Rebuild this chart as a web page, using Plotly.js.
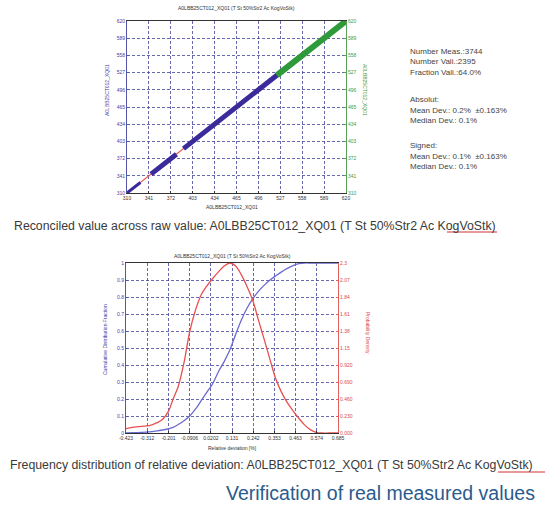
<!DOCTYPE html>
<html>
<head>
<meta charset="utf-8">
<script src="https://cdn.plot.ly/plotly-3.0.1.min.js"></script>
<style>
html,body{margin:0;padding:0;background:#fff;}
#chart{width:555px;height:509px;}
</style>
</head>
<body>
<div id="chart"></div>
<script>
// ---------- data ----------
// Top chart: reconciled vs raw value (A0LBB25CT012_XQ01)
const scatterTicks = [310, 341, 372, 403, 434, 465, 496, 527, 558, 589, 620];
const blueThinRaw = [310, 318, 329];
const blueThinRec = [310, 318, 329];
const blueRaw = [344, 360, 380, null, 390, 420, 450, 480, 510, 540, 560];
const blueRec = [344, 360, 380, null, 390, 420, 450, 480, 510, 540, 560];
const greenRaw = [522, 540, 560, 580, 600, 620];
const greenRec = [522, 540, 560, 580, 600, 620];
const redRaw = [310, 400];
const redRec = [310, 400];

// Bottom chart: frequency distribution of relative deviation
const devTicks = [-0.423, -0.312, -0.201, -0.0906, 0.0202, 0.131, 0.242, 0.353, 0.463, 0.574, 0.685];
const devTickText = ["-0.423", "-0.312", "-0.201", "-0.0906", "0.0202", "0.131", "0.242", "0.353", "0.463", "0.574", "0.685"];
const cdfTicks = [0, 0.1, 0.2, 0.3, 0.4, 0.5, 0.6, 0.7, 0.8, 0.9, 1];
const cdfTickText = ["0", "0.1", "0.2", "0.3", "0.4", "0.5", "0.6", "0.7", "0.8", "0.9", "1"];
const pdfTicks = [0, 0.23, 0.46, 0.69, 0.92, 1.15, 1.38, 1.61, 1.84, 2.07, 2.3];
const pdfTickText = ["0.000", "0.230", "0.460", "0.690", "0.920", "1.15", "1.38", "1.61", "1.84", "2.07", "2.3"];

const devX = [-0.423, -0.38, -0.34, -0.30, -0.26, -0.23, -0.20, -0.177, -0.15, -0.12, -0.09, -0.06, -0.03, 0.0, 0.03, 0.06, 0.09, 0.12, 0.15, 0.18, 0.21, 0.24, 0.27, 0.30, 0.33, 0.36, 0.39, 0.42, 0.45, 0.48, 0.51, 0.54, 0.57, 0.60, 0.64, 0.685];
const density = [0.06, 0.08, 0.09, 0.10, 0.14, 0.19, 0.30, 0.46, 0.63, 0.95, 1.37, 1.66, 1.87, 1.99, 2.09, 2.18, 2.26, 2.30, 2.26, 2.14, 1.98, 1.79, 1.52, 1.26, 0.99, 0.73, 0.55, 0.41, 0.30, 0.20, 0.11, 0.045, 0.01, 0.0, 0.0, 0.0];
const cumulative = [0.0, 0.002, 0.004, 0.007, 0.012, 0.018, 0.025, 0.033, 0.05, 0.072, 0.10, 0.14, 0.19, 0.24, 0.29, 0.36, 0.42, 0.49, 0.58, 0.665, 0.735, 0.79, 0.835, 0.87, 0.90, 0.925, 0.948, 0.968, 0.985, 0.996, 1.0, 1.0, 1.0, 1.0, 1.0, 1.0];

const statLines = ["Number Meas.:3744", "Number Vali.:2395", "Fraction Vali.:64.0%", "Absolut:", "Mean Dev.: 0.2%  ±0.163%", "Median Dev.: 0.1%", "Signed:", "Mean Dev.: 0.1%  ±0.163%", "Median Dev.: 0.1%"];

// ---------- layout helpers ----------
const W = 555, H = 509;
const px = v => v / W;
const py = v => 1 - v / H;
const FONT = "Liberation Sans, Arial, sans-serif";
const gridCol = "#44449a";
const blueTxt = "#4040a8";
const greenTxt = "#3f9a3f";
const redTxt = "#e04848";
const gridDash = "3px,2px";

const traces = [
  {x: redRaw, y: redRec, xaxis: "x", yaxis: "y", mode: "lines", line: {color: "#e85a5a", width: 1.2}, hoverinfo: "skip"},
  {x: blueThinRaw, y: blueThinRec, xaxis: "x", yaxis: "y", mode: "lines", line: {color: "#3b2b9a", width: 3}, hoverinfo: "skip"},
  {x: blueRaw, y: blueRec, xaxis: "x", yaxis: "y", mode: "lines", line: {color: "#3b2b9a", width: 5}, connectgaps: false, hoverinfo: "skip"},
  {x: greenRaw, y: greenRec, xaxis: "x", yaxis: "y2", mode: "lines", line: {color: "#2f9a3a", width: 6}, hoverinfo: "skip"},
  {x: devX, y: cumulative, xaxis: "x2", yaxis: "y3", mode: "lines", line: {color: "#6a6ad0", width: 1.3, shape: "spline"}, hoverinfo: "skip"},
  {x: devX, y: density, xaxis: "x2", yaxis: "y4", mode: "lines", line: {color: "#e85050", width: 1.3, shape: "spline"}, hoverinfo: "skip"}
];

const tickFont = c => ({family: FONT, size: 5, color: c});
const baseX = {
  showgrid: true, gridcolor: gridCol, griddash: gridDash, gridwidth: 0.8,
  zeroline: false, showline: true, linecolor: "#333", linewidth: 1, mirror: true,
  ticks: "inside", ticklen: 2, tickcolor: "#333", tickfont: tickFont("#333")
};

const layout = {
  width: W, height: H,
  margin: {l: 0, r: 0, t: 0, b: 0},
  paper_bgcolor: "#fff", plot_bgcolor: "#fff",
  showlegend: false,
  font: {family: FONT},
  xaxis: Object.assign({}, baseX, {
    domain: [px(127), px(346)], anchor: "y", range: [310, 620],
    tickmode: "array", tickvals: scatterTicks, ticktext: scatterTicks.map(String)
  }),
  yaxis: {
    domain: [py(193), py(21)], anchor: "x", range: [310, 620],
    tickmode: "array", tickvals: scatterTicks, ticktext: scatterTicks.map(String),
    showgrid: true, gridcolor: gridCol, griddash: gridDash, gridwidth: 0.8,
    zeroline: false, showline: true, linecolor: "#5555aa", linewidth: 1,
    ticks: "inside", ticklen: 2, tickcolor: "#5555aa", tickfont: tickFont(blueTxt)
  },
  yaxis2: {
    overlaying: "y", side: "right", anchor: "x", range: [310, 620],
    tickmode: "array", tickvals: scatterTicks, ticktext: scatterTicks.map(String),
    showgrid: false, zeroline: false, showline: true, linecolor: "#5aa05a", linewidth: 1,
    ticks: "inside", ticklen: 2, tickcolor: "#5aa05a", tickfont: tickFont(greenTxt)
  },
  xaxis2: Object.assign({}, baseX, {
    domain: [px(126), px(338)], anchor: "y3", range: [-0.423, 0.685],
    tickmode: "array", tickvals: devTicks, ticktext: devTickText
  }),
  yaxis3: {
    domain: [py(433), py(263)], anchor: "x2", range: [0, 1],
    tickmode: "array", tickvals: cdfTicks, ticktext: cdfTickText,
    showgrid: true, gridcolor: gridCol, griddash: gridDash, gridwidth: 0.8,
    zeroline: false, showline: true, linecolor: "#5555aa", linewidth: 1,
    ticks: "inside", ticklen: 2, tickcolor: "#5555aa", tickfont: tickFont(blueTxt)
  },
  yaxis4: {
    overlaying: "y3", side: "right", anchor: "x2", range: [0, 2.3],
    tickmode: "array", tickvals: pdfTicks, ticktext: pdfTickText,
    showgrid: false, zeroline: false, showline: true, linecolor: "#e06060", linewidth: 1,
    ticks: "inside", ticklen: 2, tickcolor: "#e06060", tickfont: tickFont(redTxt)
  },
  annotations: [],
  shapes: [
    {type: "line", xref: "paper", yref: "paper", x0: px(447), x1: px(497), y0: py(232), y1: py(232), line: {color: "#d03030", width: 1}},
    {type: "line", xref: "paper", yref: "paper", x0: px(498), x1: px(545), y0: py(472), y1: py(472), line: {color: "#d03030", width: 1}}
  ]
};

const ann = (text, x, y, opts) => Object.assign({
  text: text, xref: "paper", yref: "paper", x: px(x), y: py(y),
  showarrow: false, xanchor: "center", yanchor: "middle",
  font: {family: FONT, size: 5, color: "#333"}
}, opts || {});

const A = layout.annotations;
// chart titles
A.push(ann("A0LBB25CT012_XQ01 (T St 50%Str2 Ac KogVoStk)", 236, 8));
A.push(ann("A0LBB25CT012_XQ01 (T St 50%Str2 Ac KogVoStk)", 232, 256));
// axis titles
A.push(ann("A0LBB25CT012_XQ01", 232, 207));
A.push(ann("A0LBB25CT012_XQ01", 107, 90, {textangle: -90, font: {family: FONT, size: 5, color: blueTxt}}));
A.push(ann("A0LBB25CT012_XQ01", 365, 90, {textangle: 90, font: {family: FONT, size: 5, color: greenTxt}}));
A.push(ann("Relative deviation [%]", 232, 448));
A.push(ann("Cumulative Distribution Fraction", 105, 340, {textangle: -90, font: {family: FONT, size: 5, color: blueTxt}}));
A.push(ann("Probability Density", 368, 333, {textangle: 90, font: {family: FONT, size: 5, color: redTxt}}));
// captions
A.push(ann("Reconciled value across raw value: A0LBB25CT012_XQ01 (T St 50%Str2 Ac KogVoStk)", 12, 226, {xanchor: "left", font: {family: FONT, size: 12.3, color: "#3a3a3a"}}));
A.push(ann("Frequency distribution of relative deviation: A0LBB25CT012_XQ01 (T St 50%Str2 Ac KogVoStk)", 8, 465, {xanchor: "left", font: {family: FONT, size: 12.3, color: "#3a3a3a"}}));
A.push(ann("Verification of real measured values", 537, 493, {xanchor: "right", font: {family: FONT, size: 19.5, color: "#2a5b8c"}}));
// statistics panel
const statY = [52, 62, 72, 99, 110, 120, 145, 156, 166];
statLines.forEach((t, i) => A.push(ann(t, 408, statY[i], {xanchor: "left", font: {family: FONT, size: 8, color: "#444"}})));

Plotly.newPlot("chart", traces, layout, {staticPlot: true, displayModeBar: false});
</script>
</body>
</html>
